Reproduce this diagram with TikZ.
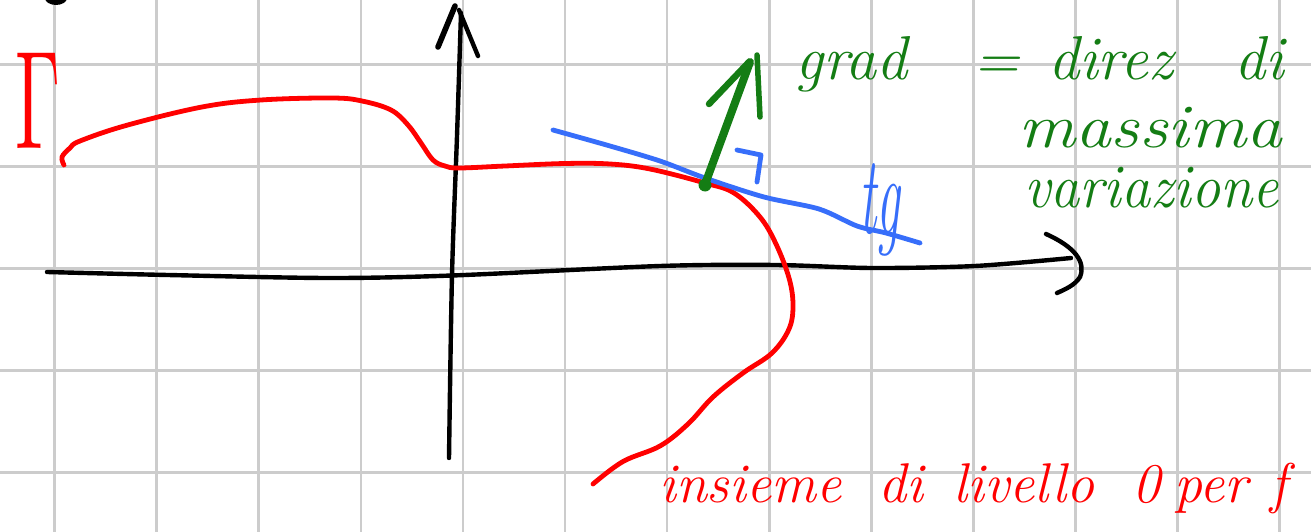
\documentclass[tikz,border=0pt]{standalone}
\usepackage{fontspec}
\definecolor{gridgray}{RGB}{204,204,204}
\definecolor{inkred}{RGB}{255,0,0}
\definecolor{inkgreen}{RGB}{20,125,20}
\definecolor{inkblue}{RGB}{55,110,250}
\begin{document}
\begin{tikzpicture}[x=1pt,y=-1pt,
  gridline/.style={gridgray, line width=2.6pt},
  ink/.style={line width=4.8pt, line cap=round, line join=round},
  blackink/.style={ink, black, line width=4.4pt},
  redtext/.style={text=inkred, inner sep=0pt, font=\fontsize{56}{60}\selectfont\itshape},
  greentext/.style={text=inkgreen, inner sep=0pt, font=\fontsize{62}{66}\selectfont\itshape},
  bluetext/.style={text=inkblue, inner sep=0pt, font=\fontsize{70}{70}\selectfont\itshape}]
\fill[white] (0,0) rectangle (1311,532);
\useasboundingbox (0,0) rectangle (1311,532);
\clip (0,0) rectangle (1311,532);
% grid
\foreach \i in {0,...,12} \draw[gridline] ({54.5+102.1*\i},0) -- ({54.5+102.1*\i},532);
\foreach \j in {0,...,4} \draw[gridline] (0,{64.3+102.1*\j}) -- (1311,{64.3+102.1*\j});
% black blob at top
\fill[black] (56,-2) ellipse [x radius=11, y radius=7];
% x axis
\draw[blackink] plot[smooth] coordinates {(47,272) (168,275) (328,278) (452,275.5) (660,266) (776,265) (872,268) (975,266) (1071,258)};
\draw[blackink] (1046,234) .. controls (1075,247) and (1086,262) .. (1080,277) .. controls (1075,285) and (1066,289) .. (1057,293);
% y axis
\draw[blackink] plot[smooth] coordinates {(449,458) (452,275) (457,136) (461,13)};
\draw[blackink, line width=5.6pt] (438,47) -- (455,6);
\draw[blackink] (459,10) -- (478,56);
% red level set
\draw[ink, inkred] plot[smooth, tension=0.6] coordinates {(64,165) (62,157) (70,148) (80,141) (126,125.5) (202,107) (261,100) (332,98) (362,101) (391,110) (408,125) (421,143) (433,160) (445,166) (459,168) (505,166) (565,163.5) (610,164) (650,169) (705,183) (734,193) (760,217) (776,244) (789,278) (793,305) (789,329) (772,353) (743,373) (713,397) (688,424) (660,446) (623,461.5) (593,484)};
% blue tangent
\draw[ink, inkblue] plot[smooth] coordinates {(553,130) (610,146) (660,161) (705,178) (764,197) (819,209) (857,226) (886,233) (920,243)};
\draw[ink, inkblue] (737,150) -- (761,155) -- (757,182);
% green gradient arrow
\draw[inkgreen, line width=8pt, line cap=round] (704,187) -- (750,62);
\draw[inkgreen, line width=6.5pt, line cap=round] (709,104) -- (749,62);
\draw[inkgreen, line width=5.5pt, line cap=round] (757,55) -- (760,117);
\fill[inkgreen] (705,185) circle (6.5);
% texts
\node[text=inkred, inner sep=0pt] (gamma) at (38,101) {\scalebox{7.2}[14]{$\Gamma$}};
\node[bluetext, anchor=base west] (tg) at (859,233) {\scalebox{0.75}[1.6]{tg}};
\node[greentext, anchor=base west] (line1) at (795,80) {\makebox[178pt][l]{grad}\makebox[75pt][l]{=}\makebox[186pt][l]{direz}di};
\node[greentext, anchor=base west] (line2) at (1018,147) {\scalebox{1.15}[1]{massima}};
\node[greentext, anchor=base west] (line3) at (1024,207) {\scalebox{0.94}[1]{variazione}};
\node[redtext, anchor=base west] (level) at (659,502) {\makebox[219pt][l]{insieme}\makebox[75pt][l]{di}\makebox[179pt][l]{livello}\makebox[42pt][l]{0}\makebox[96pt][l]{per}f};
\end{tikzpicture}
\end{document}
